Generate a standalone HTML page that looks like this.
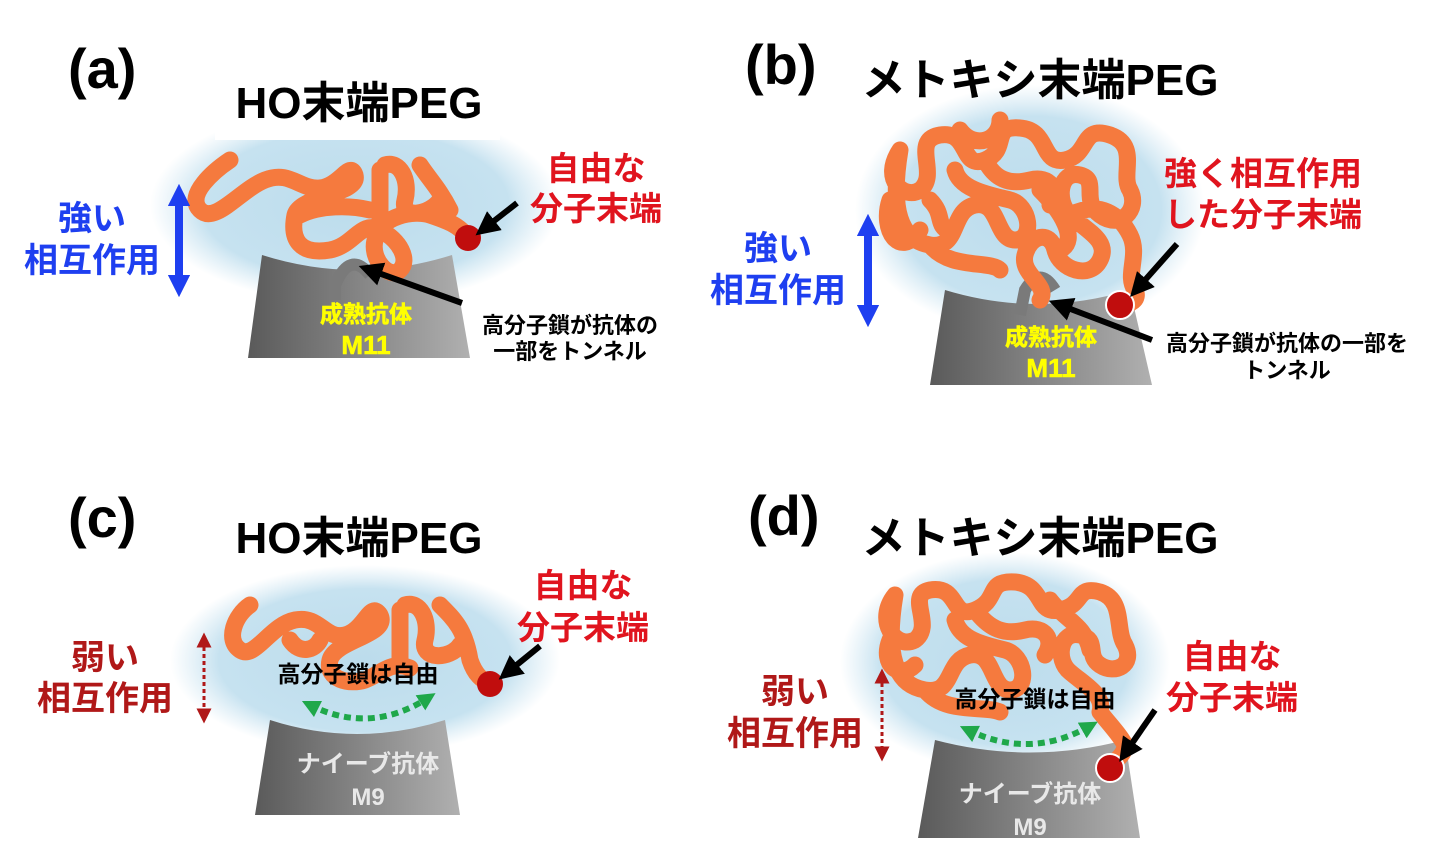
<!DOCTYPE html>
<html><head><meta charset="utf-8"><style>
html,body{margin:0;padding:0;background:#fff;}
svg{display:block;}
text{font-family:"Liberation Sans","Noto Sans CJK JP",sans-serif;font-weight:bold;}
</style></head><body>
<svg width="1440" height="860" viewBox="0 0 1440 860" xmlns="http://www.w3.org/2000/svg">
<defs>
<linearGradient id="g" x1="0" x2="1" y1="0" y2="0"><stop offset="0" stop-color="#5a5a5a"/><stop offset="1" stop-color="#b0b0b0"/></linearGradient>
<radialGradient id="glow"><stop offset="0" stop-color="#bcdcec"/><stop offset="0.75" stop-color="#c6e2f0"/><stop offset="1" stop-color="#cfe6f2" stop-opacity="0"/></radialGradient>
<marker id="ah" viewBox="0 0 10 10" refX="5" refY="5" markerWidth="4" markerHeight="4" orient="auto-start-reverse"><path d="M0,0 L10,5 L0,10 z" fill="#000"/></marker>
<marker id="bh" viewBox="0 0 10 10" refX="5" refY="5" markerWidth="2.8" markerHeight="2.8" orient="auto-start-reverse"><path d="M0,0 L10,5 L0,10 z" fill="#1e3ff0"/></marker>
<marker id="rh" viewBox="0 0 10 10" refX="5" refY="5" markerWidth="5" markerHeight="5" orient="auto-start-reverse"><path d="M0,0 L10,5 L0,10 z" fill="#b01818"/></marker>
<marker id="gh" viewBox="0 0 10 10" refX="5" refY="5" markerWidth="3" markerHeight="3" orient="auto-start-reverse"><path d="M0,0 L10,5 L0,10 z" fill="#1fa84a"/></marker>
</defs>

<!-- ===== (a) ===== -->
<ellipse cx="355" cy="205" rx="205" ry="100" fill="url(#glow)"/>
<rect x="215" y="75" width="285" height="65" fill="#fff"/>
<text x="68" y="88" font-size="56">(a)</text>
<text x="359" y="118" font-size="44" text-anchor="middle">HO末端PEG</text>
<path d="M262,255 Q357,285 452,255 L470,358 L248,358 Z" fill="url(#g)"/>
<path d="M335,300 L335,285 Q350,250 370,275" stroke="#7a7a7a" stroke-width="12" fill="none"/>
<path d="M230,160 C215,170 185,195 200,210 C215,225 240,190 265,180 C290,170 300,190 320,188 C340,186 350,160 355,175 C360,195 300,195 295,215 C290,240 300,255 330,250 C355,245 360,220 380,230 C400,240 410,260 400,270 C390,280 370,260 375,240 C380,215 415,210 430,215 C445,220 460,225 468,238 M380,170 L380,230 M385,165 C400,160 410,180 405,200 C400,220 430,215 440,200 M300,215 C320,205 350,205 370,210 M420,165 C430,180 440,190 450,210" stroke="#f57a3e" stroke-width="17" fill="none" stroke-linecap="round" stroke-linejoin="round"/>
<circle cx="468" cy="238" r="13" fill="#c00d0d"/>
<line x1="517" y1="203" x2="485" y2="228" stroke="#000" stroke-width="6" marker-end="url(#ah)"/>
<line x1="462" y1="303" x2="370" y2="270" stroke="#000" stroke-width="6" marker-end="url(#ah)"/>
<text x="366" y="322" font-size="23" fill="#ffff00" text-anchor="middle" stroke="#ffff00" stroke-width="0.6">成熟抗体</text>
<text x="366" y="354" font-size="26" fill="#ffff00" text-anchor="middle" stroke="#ffff00" stroke-width="0.6">M11</text>
<text x="596" y="180" font-size="33" fill="#e0141e" text-anchor="middle">自由な</text>
<text x="596" y="220" font-size="33" fill="#e0141e" text-anchor="middle">分子末端</text>
<text x="570" y="333" font-size="22" text-anchor="middle">高分子鎖が抗体の</text>
<text x="570" y="359" font-size="22" text-anchor="middle">一部をトンネル</text>
<text x="92" y="230" font-size="34" fill="#1e3ff0" text-anchor="middle">強い</text>
<text x="92" y="272" font-size="34" fill="#1e3ff0" text-anchor="middle">相互作用</text>
<line x1="179" y1="195" x2="179" y2="286" stroke="#1e3ff0" stroke-width="8" marker-start="url(#bh)" marker-end="url(#bh)"/>

<!-- ===== (b) ===== -->
<ellipse cx="1030" cy="210" rx="175" ry="125" fill="url(#glow)"/>
<text x="745" y="84" font-size="56">(b)</text>
<text x="1040" y="95" font-size="44" text-anchor="middle">メトキシ末端PEG</text>
<path d="M945,290 Q1037,318 1130,290 L1152,385 L930,385 Z" fill="url(#g)"/>
<path d="M1020,315 L1025,290 Q1040,265 1055,290" stroke="#7a7a7a" stroke-width="12" fill="none"/>
<path d="M900,150 C880,180 905,200 920,190 C940,175 910,140 940,135 C970,130 960,170 985,160 C1010,150 990,125 1020,128 C1050,130 1040,165 1065,160 C1090,155 1080,125 1110,135 C1140,145 1120,175 1130,190 C1140,210 1120,230 1100,215 C1080,200 1100,180 1080,175 C1060,170 1055,200 1070,215 C1085,230 1110,240 1100,260 C1090,280 1060,270 1055,250 C1050,230 1030,235 1025,255 C1020,275 1050,285 1040,300 M900,150 C890,210 900,240 930,245 C960,250 950,210 975,205 C1000,200 995,240 1015,240 C1035,240 1030,205 1010,200 C990,195 960,190 955,170 M930,245 C950,270 990,260 1000,270 M1070,215 C1100,200 1120,215 1130,235 C1140,255 1125,275 1135,290 C1140,300 1130,305 1120,305 M985,160 C995,180 1010,185 1030,180 C1050,175 1060,190 1050,205 M930,200 C945,215 935,225 950,232 M890,200 C880,230 900,260 920,230 M960,130 C975,150 1000,140 1000,120 M1040,190 C1060,210 1080,240 1060,250" stroke="#f57a3e" stroke-width="17" fill="none" stroke-linecap="round" stroke-linejoin="round"/>
<circle cx="1120" cy="305" r="14" fill="#c00d0d" stroke="#fff" stroke-width="2"/>
<line x1="1177" y1="244" x2="1138" y2="288" stroke="#000" stroke-width="6" marker-end="url(#ah)"/>
<line x1="1152" y1="340" x2="1060" y2="305" stroke="#000" stroke-width="6" marker-end="url(#ah)"/>
<text x="1051" y="345" font-size="23" fill="#ffff00" text-anchor="middle" stroke="#ffff00" stroke-width="0.6">成熟抗体</text>
<text x="1051" y="377" font-size="26" fill="#ffff00" text-anchor="middle" stroke="#ffff00" stroke-width="0.6">M11</text>
<text x="1263" y="185" font-size="33" fill="#e0141e" text-anchor="middle">強く相互作用</text>
<text x="1263" y="226" font-size="33" fill="#e0141e" text-anchor="middle">した分子末端</text>
<text x="1287" y="351" font-size="22" text-anchor="middle">高分子鎖が抗体の一部を</text>
<text x="1287" y="378" font-size="22" text-anchor="middle">トンネル</text>
<text x="778" y="260" font-size="34" fill="#1e3ff0" text-anchor="middle">強い</text>
<text x="778" y="302" font-size="34" fill="#1e3ff0" text-anchor="middle">相互作用</text>
<line x1="868" y1="225" x2="868" y2="316" stroke="#1e3ff0" stroke-width="8" marker-start="url(#bh)" marker-end="url(#bh)"/>

<!-- ===== (c) ===== -->
<ellipse cx="365" cy="660" rx="195" ry="95" fill="url(#glow)"/>
<text x="68" y="537" font-size="56">(c)</text>
<text x="359" y="553" font-size="44" text-anchor="middle">HO末端PEG</text>
<path d="M270,720 Q357,748 445,720 L460,815 L255,815 Z" fill="url(#g)"/>
<path d="M250,605 C235,615 225,640 240,650 C255,660 270,625 295,620 C320,615 325,640 345,635 C365,630 370,600 380,615 C390,635 335,640 330,660 C325,680 350,685 365,680 C380,675 390,660 410,668 M400,610 L400,665 M405,605 C420,600 430,620 425,640 C420,660 450,660 460,645 M440,605 C455,620 465,630 470,660 C475,675 482,680 490,684 M290,640 C300,655 315,650 320,640" stroke="#f57a3e" stroke-width="17" fill="none" stroke-linecap="round" stroke-linejoin="round"/>
<circle cx="490" cy="684" r="13" fill="#c00d0d"/>
<line x1="540" y1="646" x2="508" y2="672" stroke="#000" stroke-width="6" marker-end="url(#ah)"/>
<text x="358" y="682" font-size="23" text-anchor="middle">高分子鎖は自由</text>
<path d="M310,705 Q370,735 428,698" stroke="#1fa84a" stroke-width="6" fill="none" stroke-dasharray="7,5" marker-start="url(#gh)" marker-end="url(#gh)"/>
<text x="368" y="772" font-size="24" fill="#e8e8e8" text-anchor="middle">ナイーブ抗体</text>
<text x="368" y="805" font-size="24" fill="#e8e8e8" text-anchor="middle">M9</text>
<text x="583" y="597" font-size="33" fill="#e0141e" text-anchor="middle">自由な</text>
<text x="583" y="639" font-size="33" fill="#e0141e" text-anchor="middle">分子末端</text>
<text x="105" y="669" font-size="34" fill="#b01818" text-anchor="middle">弱い</text>
<text x="105" y="710" font-size="34" fill="#b01818" text-anchor="middle">相互作用</text>
<line x1="204" y1="640" x2="204" y2="716" stroke="#b01818" stroke-width="3" stroke-dasharray="4,3" marker-start="url(#rh)" marker-end="url(#rh)"/>

<!-- ===== (d) ===== -->
<ellipse cx="1005" cy="662" rx="165" ry="110" fill="url(#glow)"/>
<text x="748" y="535" font-size="56">(d)</text>
<text x="1040" y="553" font-size="44" text-anchor="middle">メトキシ末端PEG</text>
<path d="M935,740 Q1030,765 1125,740 L1140,838 L918,838 Z" fill="url(#g)"/>
<path d="M895,595 C875,620 895,650 915,640 C935,625 905,595 930,590 C960,585 950,620 975,610 C1000,600 985,580 1015,582 C1045,585 1035,615 1060,610 C1085,605 1075,585 1100,592 C1125,600 1115,630 1125,645 C1135,665 1115,675 1100,665 C1085,655 1100,640 1080,635 C1060,630 1055,660 1070,672 C1085,685 1105,695 1100,712 M895,595 C885,655 895,685 925,690 C955,695 945,660 970,655 C995,650 990,690 1010,690 C1030,690 1025,655 1005,650 C985,645 960,640 955,620 M925,690 C945,715 985,705 1000,712 M1100,712 C1110,725 1120,735 1125,745 C1125,755 1115,760 1110,768 M975,610 C990,630 1005,635 1025,630 C1045,625 1055,640 1045,655 M890,640 C880,665 900,680 915,665 M1050,600 C1065,620 1085,625 1090,650" stroke="#f57a3e" stroke-width="17" fill="none" stroke-linecap="round" stroke-linejoin="round"/>
<circle cx="1110" cy="768" r="14" fill="#c00d0d" stroke="#fff" stroke-width="2"/>
<line x1="1155" y1="710" x2="1126" y2="752" stroke="#000" stroke-width="6" marker-end="url(#ah)"/>
<text x="1035" y="707" font-size="23" text-anchor="middle">高分子鎖は自由</text>
<path d="M968,730 Q1030,760 1090,726" stroke="#1fa84a" stroke-width="6" fill="none" stroke-dasharray="7,5" marker-start="url(#gh)" marker-end="url(#gh)"/>
<text x="1030" y="802" font-size="24" fill="#e8e8e8" text-anchor="middle">ナイーブ抗体</text>
<text x="1030" y="835" font-size="24" fill="#e8e8e8" text-anchor="middle">M9</text>
<text x="1232" y="668" font-size="33" fill="#e0141e" text-anchor="middle">自由な</text>
<text x="1232" y="709" font-size="33" fill="#e0141e" text-anchor="middle">分子末端</text>
<text x="795" y="703" font-size="34" fill="#b01818" text-anchor="middle">弱い</text>
<text x="795" y="745" font-size="34" fill="#b01818" text-anchor="middle">相互作用</text>
<line x1="882" y1="676" x2="882" y2="754" stroke="#b01818" stroke-width="3" stroke-dasharray="4,3" marker-start="url(#rh)" marker-end="url(#rh)"/>
</svg>
</body></html>
